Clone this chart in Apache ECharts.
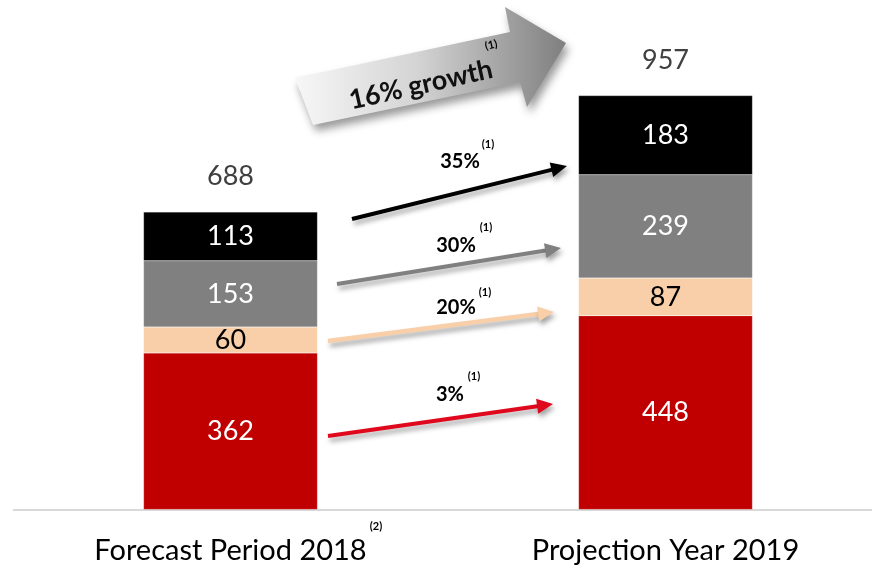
<!DOCTYPE html>
<html>
<head>
<meta charset="utf-8">
<script src="https://cdn.jsdelivr.net/npm/echarts@6/dist/echarts.min.js"></script>
<style>
  html, body { margin: 0; padding: 0; background: #fff; }
  #chart { width: 872px; height: 568px; }
</style>
</head>
<body>
<div id="chart"></div>
<script>
// Categories and segment values (stacked bottom to top)
const categories = ['Forecast Period 2018', 'Projection Year 2019'];
const redValues = [362, 448];
const peachValues = [60, 87];
const greyValues = [153, 239];
const blackValues = [113, 183];
const totals = [688, 957];

// Growth rates shown on the connecting arrows
const growthLabels = ['35%', '30%', '20%', '3%'];
const overallGrowth = '16% growth';

const FONT = 'Lato, "Open Sans", sans-serif';

const chart = echarts.init(document.getElementById('chart'), null, { renderer: 'canvas' });

function segLabel(color) {
  return {
    show: true,
    position: 'inside',
    color: color,
    fontFamily: FONT,
    fontSize: 27,
    fontWeight: 'normal'
  };
}

function barSeries(name, data, color, labelColor) {
  return {
    name: name,
    type: 'bar',
    stack: 'total',
    data: data,
    barWidth: 174,
    itemStyle: { color: color, borderColor: 'rgba(255,255,255,0.35)', borderWidth: 0.5 },
    label: segLabel(labelColor),
    emphasis: { disabled: true }
  };
}

// Arrow from (x1,y1) to tip (x2,y2), drawn as a shaft plus a triangular head
function arrow(x1, y1, x2, y2, color, width) {
  const dx = x2 - x1, dy = y2 - y1;
  const len = Math.sqrt(dx * dx + dy * dy);
  const ux = dx / len, uy = dy / len;
  const headLen = 16, headHalf = 7.5;
  const bx = x2 - ux * headLen, by = y2 - uy * headLen;
  const shadow = { shadowBlur: 5, shadowOffsetX: 2, shadowOffsetY: 4, shadowColor: 'rgba(0,0,0,0.35)' };
  return [
    {
      type: 'line',
      shape: { x1: x1, y1: y1, x2: bx + ux * 2, y2: by + uy * 2 },
      style: Object.assign({ stroke: color, lineWidth: width }, shadow),
      silent: true
    },
    {
      type: 'polygon',
      shape: {
        points: [
          [x2, y2],
          [bx - uy * headHalf, by + ux * headHalf],
          [bx + uy * headHalf, by - ux * headHalf]
        ]
      },
      style: Object.assign({ fill: color }, shadow),
      silent: true
    }
  ];
}

function pctText(x, y, text) {
  return {
    type: 'text', x: x, y: y,
    style: { text: text, fontFamily: FONT, fontWeight: 'bold', fontSize: 20, fill: '#000', align: 'center', verticalAlign: 'middle' },
    silent: true
  };
}

function supText(x, y, text) {
  return {
    type: 'text', x: x, y: y,
    style: { text: text, fontFamily: FONT, fontWeight: 'bold', fontSize: 11, fill: '#000', align: 'center', verticalAlign: 'middle' },
    silent: true
  };
}

const graphics = [];

// Baseline rule across the plot
graphics.push({
  type: 'line',
  shape: { x1: 13, y1: 510, x2: 872, y2: 510 },
  style: { stroke: '#d9d9d9', lineWidth: 2 },
  silent: true,
  z: -1
});

// Big overall-growth arrow with grey gradient
graphics.push({
  type: 'polygon',
  shape: {
    points: [[295, 78], [510, 32], [505, 7], [566, 43], [527, 107], [520, 82], [313, 125]]
  },
  style: {
    fill: new echarts.graphic.LinearGradient(0, 0, 1, 0, [
      { offset: 0, color: '#f7f7f7' },
      { offset: 0.45, color: '#d4d4d4' },
      { offset: 1, color: '#7f7f7f' }
    ]),
    shadowBlur: 8, shadowOffsetX: 3, shadowOffsetY: 6, shadowColor: 'rgba(0,0,0,0.4)'
  },
  silent: true
});
graphics.push({
  type: 'text', x: 421, y: 85, rotation: 0.22,
  style: { text: overallGrowth, fontFamily: FONT, fontWeight: 'bold', fontSize: 27, fill: '#111', align: 'center', verticalAlign: 'middle' },
  silent: true
});
graphics.push(Object.assign(supText(491, 45, '(1)'), { rotation: 0.22 }));

// Segment arrows
graphics.push(...arrow(352, 219, 567, 166, '#000000', 4));
graphics.push(...arrow(337, 284, 561, 248, '#808080', 4));
graphics.push(...arrow(328, 341, 554, 312, '#f8cfa8', 4.5));
graphics.push(...arrow(328, 436, 553, 404, '#e0081c', 4));

// Growth rate labels with footnote markers
graphics.push(pctText(460, 162, growthLabels[0]));
graphics.push(supText(488, 144, '(1)'));
graphics.push(pctText(456, 246, growthLabels[1]));
graphics.push(supText(486, 227, '(1)'));
graphics.push(pctText(456, 308, growthLabels[2]));
graphics.push(supText(485, 292, '(1)'));
graphics.push(pctText(450, 395, growthLabels[3]));
graphics.push(supText(474, 376, '(1)'));

// Footnote marker on the first category label
graphics.push({
  type: 'text', x: 376, y: 526,
  style: { text: '(2)', fontFamily: FONT, fontWeight: 'bold', fontSize: 11, fill: '#000', align: 'center', verticalAlign: 'middle' },
  silent: true
});

const option = {
  animation: false,
  backgroundColor: '#fff',
  // Category centres sit on the grid edges (boundaryGap off)
  grid: { left: 230.5, top: 77, width: 435, height: 432.5, containLabel: false },
  xAxis: {
    type: 'category',
    data: categories,
    boundaryGap: false,
    axisLine: { show: false },
    axisTick: { show: false },
    splitLine: { show: false },
    axisLabel: { color: '#000', fontFamily: FONT, fontSize: 29, margin: 27 }
  },
  yAxis: {
    type: 'value',
    min: 0,
    max: 1000,
    show: false,
    splitLine: { show: false }
  },
  series: [
    barSeries('Red', redValues, '#c00000', '#fff'),
    barSeries('Peach', peachValues, '#f8cfa8', '#000'),
    barSeries('Grey', greyValues, '#808080', '#fff'),
    barSeries('Black', blackValues, '#000000', '#fff'),
    {
      name: 'Total',
      type: 'bar',
      stack: 'total',
      data: [0, 0],
      barWidth: 174,
      itemStyle: { color: 'transparent' },
      label: {
        show: true,
        position: 'top',
        distance: 22,
        color: '#404040',
        fontFamily: FONT,
        fontSize: 27,
        formatter: (p) => String(totals[p.dataIndex])
      },
      emphasis: { disabled: true }
    }
  ],
  graphic: graphics
};

chart.setOption(option);
</script>
</body>
</html>
